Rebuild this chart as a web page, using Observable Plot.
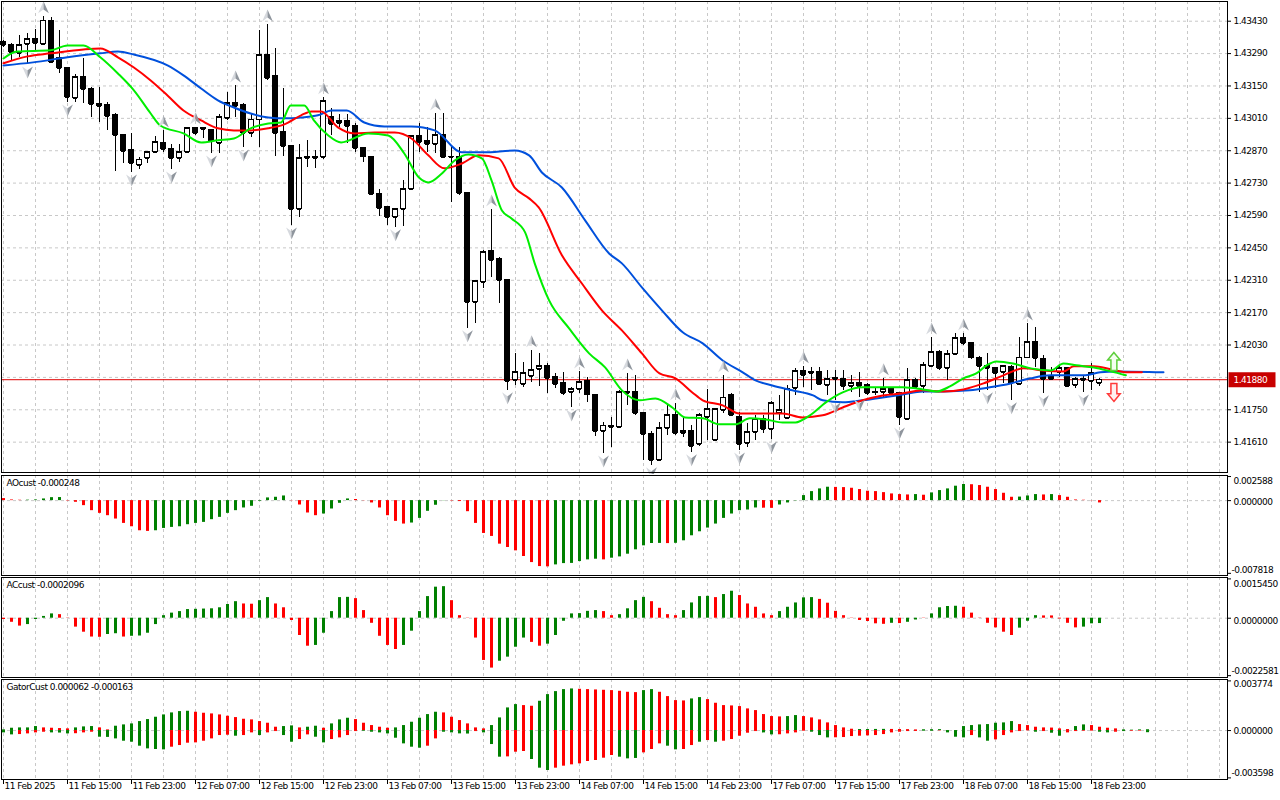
<!DOCTYPE html>
<html>
<head>
<meta charset="utf-8">
<title>H1 chart with Alligator, AO, AC, Gator</title>
<script src="https://cdn.jsdelivr.net/npm/d3@7"></script>
<script src="https://cdn.jsdelivr.net/npm/@observablehq/plot@0.6"></script>
<style>
html,body{margin:0;padding:0;background:#fff;}
#wrap{position:relative;width:1280px;height:800px;overflow:hidden;background:#fff;}
#wrap > svg{position:absolute;left:0;display:block;max-width:none;}
#wrap text{letter-spacing:-0.5px;}
</style>
</head>
<body>
<div id="wrap"></div>
<script>
// ---------------- DATA ----------------
const open = [
1.43338,1.43325,1.43291,1.43330,1.43351,1.43330,1.43433,1.43269,1.43226,1.43096,
1.43187,1.43139,1.43070,1.43066,1.43023,1.42936,1.42871,1.42807,1.42837,1.42863,
1.42902,1.42876,1.42837,1.42863,1.42967,1.42967,1.42958,1.42902,1.43010,1.43075,
1.43066,1.42945,1.43005,1.43282,1.43191,1.42949,1.42889,1.42616,1.42837,1.42841,
1.42841,1.43014,1.42988,1.42997,1.42979,1.42880,1.42845,1.42681,1.42625,1.42582,
1.42616,1.42703,1.42932,1.42910,1.42897,1.42936,1.42845,1.42845,1.42686,1.42214,
1.42301,1.42435,1.42400,1.42309,1.41877,1.41860,1.41894,1.41925,1.41938,1.41890,
1.41864,1.41825,1.41838,1.41873,1.41816,1.41657,1.41682,1.41674,1.41825,1.41825,
1.41734,1.41644,1.41531,1.41670,1.41726,1.41648,1.41657,1.41600,1.41717,1.41618,
1.41747,1.41812,1.41717,1.41605,1.41652,1.41708,1.41665,1.41734,1.41713,1.41842,
1.41916,1.41912,1.41912,1.41855,1.41886,1.41881,1.41851,1.41864,1.41855,1.41825,
1.41825,1.41838,1.41821,1.41708,1.41877,1.41851,1.41938,1.41998,1.41929,1.41989,
1.42059,1.42037,1.41976,1.41938,1.41929,1.41912,1.41933,1.41860,1.41976,1.42041,
1.41968,1.41881,1.41912,1.41929,1.41855,1.41881,1.41873,1.41864];
const high = [
1.43347,1.43334,1.43369,1.43377,1.43394,1.43451,1.43446,1.43390,1.43226,1.43200,
1.43269,1.43144,1.43144,1.43079,1.43031,1.42936,1.42945,1.42841,1.42867,1.42932,
1.42958,1.42897,1.42897,1.42971,1.42971,1.42971,1.42958,1.43027,1.43122,1.43152,
1.43075,1.43031,1.43390,1.43416,1.43312,1.43139,1.42893,1.42897,1.42915,1.42871,
1.43101,1.43053,1.43027,1.43027,1.42988,1.42880,1.42845,1.42703,1.42625,1.42616,
1.42742,1.42936,1.42988,1.42971,1.43031,1.43031,1.42893,1.42884,1.42686,1.42309,
1.42439,1.42616,1.42409,1.42309,1.41994,1.41955,1.42007,1.41994,1.41950,1.41907,
1.41912,1.41847,1.41916,1.41890,1.41816,1.41695,1.41717,1.41834,1.41907,1.41899,
1.41734,1.41657,1.41695,1.41769,1.41778,1.41713,1.41682,1.41734,1.41838,1.41756,
1.41899,1.41821,1.41739,1.41691,1.41726,1.41726,1.41786,1.41812,1.41855,1.41929,
1.41938,1.41933,1.41933,1.41920,1.41920,1.41920,1.41899,1.41912,1.41864,1.41847,
1.41886,1.41847,1.41825,1.41929,1.41886,1.41955,1.42063,1.42007,1.42007,1.42080,
1.42080,1.42037,1.41981,1.41994,1.41933,1.41942,1.41942,1.42063,1.42123,1.42106,
1.41985,1.41933,1.41942,1.41933,1.41890,1.41899,1.41950,1.41886];
const low = [
1.43317,1.43261,1.43274,1.43243,1.43304,1.43325,1.43248,1.43204,1.43079,1.43079,
1.43075,1.43014,1.42992,1.42958,1.42781,1.42815,1.42776,1.42789,1.42815,1.42858,
1.42863,1.42789,1.42820,1.42858,1.42936,1.42923,1.42858,1.42858,1.43001,1.43014,
1.42884,1.42928,1.42884,1.43174,1.42845,1.42845,1.42547,1.42582,1.42798,1.42794,
1.42832,1.42936,1.42971,1.42902,1.42863,1.42820,1.42677,1.42586,1.42547,1.42539,
1.42543,1.42698,1.42863,1.42863,1.42858,1.42837,1.42647,1.42677,1.42102,1.42123,
1.42275,1.42322,1.42210,1.41834,1.41855,1.41847,1.41868,1.41851,1.41821,1.41842,
1.41812,1.41760,1.41821,1.41782,1.41635,1.41561,1.41587,1.41670,1.41769,1.41726,
1.41531,1.41510,1.41527,1.41639,1.41639,1.41631,1.41566,1.41592,1.41618,1.41618,
1.41734,1.41726,1.41574,1.41587,1.41618,1.41648,1.41622,1.41704,1.41708,1.41812,
1.41847,1.41834,1.41855,1.41812,1.41791,1.41834,1.41825,1.41803,1.41812,1.41812,
1.41803,1.41812,1.41682,1.41704,1.41838,1.41821,1.41938,1.41920,1.41877,1.41985,
1.42028,1.41968,1.41825,1.41834,1.41842,1.41864,1.41791,1.41855,1.41976,1.41933,
1.41821,1.41877,1.41890,1.41847,1.41842,1.41825,1.41834,1.41851];
const close = [
1.43325,1.43295,1.43325,1.43351,1.43334,1.43433,1.43252,1.43226,1.43101,1.43187,
1.43135,1.43070,1.43062,1.43018,1.42936,1.42867,1.42815,1.42832,1.42863,1.42906,
1.42876,1.42837,1.42863,1.42967,1.42945,1.42962,1.42910,1.43014,1.43075,1.43062,
1.42945,1.43005,1.43282,1.43183,1.42945,1.42889,1.42616,1.42837,1.42841,1.42837,
1.43083,1.42984,1.42997,1.42975,1.42880,1.42845,1.42681,1.42621,1.42582,1.42616,
1.42703,1.42932,1.42906,1.42897,1.42936,1.42841,1.42841,1.42686,1.42214,1.42305,
1.42430,1.42396,1.42309,1.41873,1.41912,1.41907,1.41920,1.41938,1.41886,1.41860,
1.41821,1.41838,1.41868,1.41816,1.41657,1.41682,1.41674,1.41825,1.41821,1.41734,
1.41644,1.41531,1.41670,1.41726,1.41648,1.41657,1.41592,1.41726,1.41752,1.41752,
1.41803,1.41726,1.41600,1.41652,1.41708,1.41665,1.41778,1.41747,1.41838,1.41916,
1.41899,1.41907,1.41860,1.41881,1.41881,1.41851,1.41864,1.41851,1.41821,1.41823,
1.41838,1.41821,1.41717,1.41877,1.41847,1.41942,1.41998,1.41929,1.41989,1.42059,
1.42037,1.41976,1.41938,1.41929,1.41907,1.41938,1.41864,1.41976,1.42041,1.41972,
1.41881,1.41890,1.41929,1.41851,1.41881,1.41877,1.41907,1.41880];

// Alligator lines (bar position, price)
const jawBar = [0,3.7,8,12.1,14.3,16.3,20.5,22.5,24.7,26.8,28.8,30.9,33.1,35.1,37.2,39.3,41,42.9,45.1,47.6,51,53.9,57.3,60.1,63.9,65.7,67.3,69.8,72.7,75.7,77.3,79.8,82.3,84.9,87.4,89.9,92.4,94,96.1,98.6,101.2,102.4,104.9,107.4,109.9,112.4,114.9,117.5,120.8,123.3,125.9,128.4,130.9,135,137.1,139.1,145];
const jawPrice = [1.43239,1.43252,1.43274,1.43291,1.43299,1.43286,1.43239,1.43196,1.43139,1.43088,1.43057,1.43031,1.43014,1.43010,1.43014,1.43023,1.43044,1.43044,1.42992,1.42975,1.42975,1.42958,1.42863,1.42863,1.42871,1.42850,1.42776,1.42711,1.42569,1.42426,1.42383,1.42279,1.42180,1.42085,1.42037,1.41963,1.41912,1.41877,1.41855,1.41834,1.41812,1.41791,1.41782,1.41791,1.41803,1.41816,1.41829,1.41829,1.41834,1.41847,1.41864,1.41886,1.41899,1.41899,1.41912,1.41916,1.41912];
const teethBar = [0,3,5.9,10,12.1,14.3,16.3,18.4,20.5,22.5,24.7,26.8,28.8,30.9,33.1,35.1,37.2,38.5,39.7,41.8,43.9,46.4,48.9,51,53.1,55.1,57.3,59.4,61.9,63.9,65.7,66.9,69.8,72.3,74.8,77.3,79.8,82,84,86.1,87.4,89.9,92,94.5,97.4,99.9,102.4,104.9,107.4,109.9,112.4,114.9,117.5,120,122.5,125,127.5,130,132.5,133.8,136.3,138.4,140.4,142.3];
const teethPrice = [1.43248,1.43278,1.43291,1.43308,1.43312,1.43274,1.43230,1.43174,1.43109,1.43044,1.43001,1.42967,1.42958,1.42958,1.42967,1.42984,1.43023,1.43040,1.43040,1.42971,1.42945,1.42949,1.42949,1.42923,1.42850,1.42794,1.42815,1.42850,1.42837,1.42711,1.42664,1.42625,1.42418,1.42296,1.42180,1.42093,1.41994,1.41907,1.41886,1.41825,1.41791,1.41769,1.41734,1.41734,1.41734,1.41717,1.41726,1.41760,1.41791,1.41812,1.41821,1.41834,1.41829,1.41838,1.41864,1.41899,1.41929,1.41920,1.41916,1.41938,1.41938,1.41925,1.41912,1.41912];
const lipsBar = [0,1.7,5.9,8,10,12.1,14.3,16.3,18.4,19.6,22.5,24.7,26.8,28.8,30.9,33.1,34.7,35.9,37.6,38.8,40.6,42.2,45.6,48.1,50.1,51.9,53.1,54.8,56.4,58.1,59.8,61,62.3,63.5,65.2,66.4,68.2,70.7,73.2,75.2,77.3,79.5,81.5,83.6,85.2,87.4,89.5,91.5,93.3,95.3,97.4,99,100.8,102.8,104.9,107.4,109.9,112.4,114.9,116.6,118.3,120,121.6,122.9,124.1,126.2,128.4,130.9,132.5,134.1,136.3,138.4,140.3];
const lipsPrice = [1.43269,1.43299,1.43304,1.43325,1.43325,1.43274,1.43204,1.43131,1.43031,1.42979,1.42945,1.42906,1.42915,1.42923,1.42967,1.42988,1.42992,1.43066,1.43066,1.43001,1.42936,1.42906,1.42945,1.42936,1.42858,1.42755,1.42733,1.42772,1.42828,1.42854,1.42837,1.42742,1.42612,1.42577,1.42517,1.42383,1.42223,1.42102,1.41994,1.41933,1.41834,1.41791,1.41799,1.41760,1.41717,1.41713,1.41687,1.41687,1.41713,1.41708,1.41695,1.41695,1.41726,1.41782,1.41825,1.41847,1.41847,1.41847,1.41838,1.41829,1.41851,1.41886,1.41907,1.41942,1.41959,1.41950,1.41929,1.41920,1.41950,1.41942,1.41933,1.41916,1.41899];

// Fractal bars
const fractalUp = [5,20,24,29,33,40,54,61,66,72,78,84,90,100,110,116,120,128];
const fractalDown = [3,8,16,21,26,30,36,49,58,63,71,75,81,86,92,96,104,107,112,123,126,130,135];

// Alligator signal arrows (bar, price)
const signalUp = [{bar: 138.8, price: 1.41959}];
const signalDown = [{bar: 138.8, price: 1.41825}];

const lastPrice = 1.41880;
const priceTicks = [1.43430,1.43290,1.43150,1.43010,1.42870,1.42730,1.42590,1.42450,1.42310,1.42170,1.42030,1.41750,1.41610];
const priceGrid = [1.43430,1.43290,1.43150,1.43010,1.42870,1.42730,1.42590,1.42450,1.42310,1.42170,1.42030,1.41890,1.41750,1.41610];

// Awesome Oscillator
const ao = [
0.00022,0.00007,0.00004,0.00005,0.00007,0.00018,0.00032,0.00033,-0.00004,-0.00018,
-0.00054,-0.00108,-0.00137,-0.00162,-0.00198,-0.00245,-0.00281,-0.00324,-0.00331,-0.00324,
-0.00299,-0.00288,-0.00281,-0.00259,-0.00245,-0.00234,-0.00205,-0.00180,-0.00137,-0.00108,
-0.00079,-0.00061,-0.00007,0.00029,0.00036,0.00050,-0.00002,-0.00047,-0.00133,-0.00162,
-0.00144,-0.00090,-0.00029,0.00018,0.00012,-0.00002,-0.00025,-0.00079,-0.00162,-0.00223,
-0.00252,-0.00241,-0.00191,-0.00115,-0.00050,-0.00002,-0.00004,-0.00010,-0.00119,-0.00245,
-0.00353,-0.00385,-0.00468,-0.00504,-0.00540,-0.00601,-0.00666,-0.00709,-0.00712,-0.00691,
-0.00677,-0.00675,-0.00655,-0.00637,-0.00630,-0.00637,-0.00619,-0.00605,-0.00576,-0.00529,
-0.00486,-0.00461,-0.00460,-0.00462,-0.00459,-0.00432,-0.00378,-0.00335,-0.00295,-0.00252,
-0.00191,-0.00144,-0.00108,-0.00101,-0.00079,-0.00081,-0.00083,-0.00047,-0.00025,-0.00003,
0.00054,0.00097,0.00126,0.00144,0.00142,0.00140,0.00133,0.00119,0.00101,0.00097,
0.00086,0.00072,0.00065,0.00061,0.00065,0.00058,0.00083,0.00108,0.00126,0.00155,
0.00173,0.00171,0.00162,0.00144,0.00119,0.00079,0.00036,0.00038,0.00050,0.00065,
0.00061,0.00065,0.00054,0.00036,0.00007,0.00004,-0.00002,-0.000248];
const aoColorRuns = [3,"r",5,"g",11,"r",17,"g",4,"r",4,"g",7,"r",5,"g",13,"r",6,"g",1,"r",7,"g",1,"r",11,"g",2,"r",7,"g",10,"r",1,"g",1,"r",5,"g",6,"r",3,"g",1,"r",1,"g",6,"r"];

// Accelerator Oscillator
const ac = [
-0.00005,-0.00016,-0.00031,-0.00025,-0.00005,0.00007,0.00017,0.00014,-0.00001,-0.00035,
-0.00055,-0.00074,-0.00075,-0.00064,-0.00061,-0.00074,-0.00071,-0.00070,-0.00059,-0.00025,
0.00010,0.00020,0.00026,0.00034,0.00035,0.00036,0.00037,0.00041,0.00054,0.00065,
0.00056,0.00055,0.00069,0.00081,0.00056,0.00041,-0.00009,-0.00068,-0.00110,-0.00107,
-0.00059,0.00026,0.00081,0.00082,0.00077,0.00030,-0.00020,-0.00071,-0.00107,-0.00123,
-0.00107,-0.00051,0.00026,0.00085,0.00122,0.00124,0.00069,0.00010,-0.00001,-0.00078,
-0.00166,-0.00196,-0.00169,-0.00153,-0.00114,-0.00078,-0.00095,-0.00110,-0.00102,-0.00068,
-0.00012,0.00017,0.00018,0.00027,0.00030,0.00026,0.00010,0.00014,0.00037,0.00069,
0.00082,0.00065,0.00039,0.00014,0.00010,0.00030,0.00060,0.00085,0.00086,0.00081,
0.00093,0.00106,0.00089,0.00056,0.00043,0.00017,0.00010,0.00026,0.00043,0.00060,
0.00080,0.00081,0.00074,0.00059,0.00027,0.00010,-0.00001,-0.00009,-0.00013,-0.00022,
-0.00024,-0.00020,-0.00021,-0.00016,-0.00007,-0.00001,0.00017,0.00041,0.00046,0.00047,
0.00043,0.00020,-0.00001,-0.00020,-0.00038,-0.00055,-0.00068,-0.00039,-0.00012,0.00010,
0.00009,0.00009,-0.00003,-0.00020,-0.00038,-0.00035,-0.00022,-0.0002096];
const acColorRuns = [3,"r",4,"g",6,"r",2,"g",1,"r",14,"g",2,"r",2,"g",5,"r",5,"g",6,"r",6,"g",6,"r",4,"g",2,"r",7,"g",2,"r",4,"g",4,"r",4,"g",1,"r",2,"g",5,"r",5,"g",9,"r",1,"g",1,"r",2,"g",1,"r",4,"g",7,"r",3,"g",5,"r",3,"g"];

// Gator oscillator, values in millionths
const gatorUp = [
51,177,202,202,304,202,177,152,127,202,
278,304,202,51,329,430,506,683,835,1012,
1189,1341,1442,1467,1392,1316,1265,1189,1088,987,
860,810,683,557,253,304,354,202,253,329,
177,506,810,936,835,557,380,253,177,202,
380,633,936,1214,1392,1341,1012,759,506,202,
127,380,961,1720,1973,1898,1847,2226,2732,2960,
3112,3163,3137,3112,3087,3061,3036,2985,2910,2884,
3036,3112,2910,2581,2277,2252,2404,2505,2353,2075,
1898,1872,1822,1645,1518,1214,1063,1037,1063,1139,
1063,961,810,582,380,202,101,76,80,85,
90,85,80,70,50,60,65,70,0,0,
304,380,430,455,557,582,683,455,380,253,
202,190,127,76,304,430,380,253,177,127,
51,30,51,62];
const gatorUpRuns = [5,"g",4,"r",3,"g",2,"r",10,"g",11,"r",2,"g",1,"r",2,"g",1,"r",3,"g",5,"r",6,"g",6,"r",4,"g",2,"r",5,"g",8,"r",2,"g",4,"r",2,"g",10,"r",2,"g",7,"r",4,"g",4,"r",3,"g",2,"g",7,"g",7,"r",2,"g",4,"r",4,"g"];
const gatorLow = [
-177,-329,-304,-253,-177,-127,-177,-190,-253,-240,
-177,-127,-506,-520,-633,-810,-886,-1189,-1392,-1442,
-1467,-1265,-1139,-961,-936,-810,-633,-380,-354,-430,
-380,-177,-380,-177,-76,-380,-886,-683,-329,-506,
-936,-683,-557,-380,-76,-51,-127,-177,-253,-582,
-1012,-1265,-1341,-1189,-633,-127,-177,-253,-265,-76,
-177,-1063,-2024,-2000,-1645,-1594,-2201,-2859,-3036,-2859,
-2707,-2606,-2530,-2353,-2277,-2100,-1898,-2024,-2151,-2120,
-1695,-1442,-1012,-1189,-1467,-1442,-1139,-886,-759,-886,
-810,-683,-430,-202,-76,-177,-329,-320,-253,-177,
-51,-127,-380,-557,-550,-531,-455,-430,-405,-380,
-304,-177,-127,-76,-70,-51,-55,-25,-177,-506,
-557,-380,-557,-810,-708,-380,-177,-76,-25,-127,
-76,-202,-430,-177,-76,-51,-45,-127,-177,-127,
-76,-51,-45,-163];
const gatorLowRuns = [2,"g",4,"r",3,"g",3,"r",9,"g",8,"r",1,"g",2,"r",1,"g",2,"r",2,"g",2,"r",2,"g",4,"r",8,"g",2,"r",4,"g",1,"r",3,"g",3,"r",3,"g",8,"r",3,"g",3,"r",2,"g",2,"r",1,"g",1,"r",1,"g",5,"r",2,"g",4,"r",3,"g",11,"r",2,"g",1,"r",3,"g",1,"r",2,"g",5,"r",1,"g",1,"r",2,"g",4,"r",2,"g",1,"r",1,"g",2,"r",1,"g"];

// Texts
const aoTitle = "AOcust -0.000248";
const acTitle = "ACcust -0.0002096";
const gatorTitle = "GatorCust 0.000062 -0.000163";
const aoScale = [0.002588, 0, -0.007818], aoScaleText = ["0.002588","0.000000","-0.007818"];
const acScale = [0.0015450, 0, -0.0022581], acScaleText = ["0.0015450","0.0000000","-0.0022581"];
const gatorScale = [0.003774, 0, -0.003598], gatorScaleText = ["0.003774","0.000000","-0.003598"];
const timeTickBars = [0,8,16,24,32,40,48,56,64,72,80,88,96,104,112,120,128,136];
const timeLabels = ["11 Feb 2025","11 Feb 15:00","11 Feb 23:00","12 Feb 07:00","12 Feb 15:00","12 Feb 23:00","13 Feb 07:00","13 Feb 15:00","13 Feb 23:00","14 Feb 07:00","14 Feb 15:00","14 Feb 23:00","17 Feb 07:00","17 Feb 15:00","17 Feb 23:00","18 Feb 07:00","18 Feb 15:00","18 Feb 23:00"];

// ---------------- DRAWING ----------------
const RED = "#ff0000", GREEN = "#008000", GRID = "#c8c8c8";
const X_DOMAIN = [-0.25, 153];
const XMAX = 153;
const gridBars = d3.range(0, 153, 4);
const wrap = document.getElementById("wrap");
const style = {fontFamily: "'DejaVu Sans', sans-serif", fontSize: "9px", background: "transparent", color: "#000"};

function expand(runs) {
  const out = [];
  for (let k = 0; k < runs.length; k += 2) for (let j = 0; j < runs[k]; j++) out.push(runs[k + 1] === "g" ? GREEN : RED);
  return out;
}
const radius = (size) => Math.sqrt(size / Math.PI);
const sym = (pts) => ({draw(ctx, size) { const r = radius(size); ctx.moveTo(pts[0][0]*r, pts[0][1]*r); for (let k = 1; k < pts.length; k++) ctx.lineTo(pts[k][0]*r, pts[k][1]*r); ctx.closePath(); }});
const upLeft = sym([[0,-1],[0,0.35],[-0.9,1]]);
const upRight = sym([[0,-1],[0.9,1],[0,0.35]]);
const downLeft = sym([[0,1],[0,-0.35],[-0.9,-1]]);
const downRight = sym([[0,1],[0.9,-1],[0,-0.35]]);
const blockUp = sym([[0,-1],[0.7,-0.15],[0.33,-0.15],[0.33,1],[-0.33,1],[-0.33,-0.15],[-0.7,-0.15]]);
const blockDown = sym([[0,1],[0.7,0.15],[0.33,0.15],[0.33,-1],[-0.33,-1],[-0.33,0.15],[-0.7,0.15]]);
const labelBox = {draw(ctx) { ctx.rect(-23.5, -7.5, 47, 15); }};

function place(svg, top) { svg.style.top = top + "px"; wrap.appendChild(svg); }

// Main price panel
const candles = open.map((o, i) => ({i, open: o, high: high[i], low: low[i], close: close[i]}));
const pts = (bars, prices) => bars.map((b, k) => ({b, p: prices[k]}));
const half = 0.3;

const main = Plot.plot({
  width: 1280, height: 474, marginLeft: 1, marginRight: 53, marginTop: 1, marginBottom: 2,
  x: {domain: X_DOMAIN, axis: null}, y: {domain: [1.414788, 1.435152], axis: null},
  style,
  marks: [
    Plot.ruleX(gridBars, {x: d => d, stroke: GRID, strokeDasharray: "3,3"}),
    Plot.ruleY(priceGrid, {y: d => d, stroke: GRID, strokeDasharray: "3,3"}),
    Plot.ruleY([lastPrice], {y: d => d, stroke: "#e00000", strokeWidth: 1}),
    Plot.ruleX(candles, {x: "i", y1: "low", y2: "high", stroke: "#000", shapeRendering: "crispEdges"}),
    Plot.rect(candles, {x1: d => d.i - half, x2: d => d.i + half, y1: "open", y2: "close",
      fill: d => d.close >= d.open ? "#fff" : "#000", stroke: "#000", shapeRendering: "crispEdges"}),
    Plot.ruleY(candles, {y: "open", x1: d => d.i - half, x2: d => d.i + half, stroke: "#000", shapeRendering: "crispEdges"}),
    Plot.ruleY(candles, {y: "close", x1: d => d.i - half, x2: d => d.i + half, stroke: "#000", shapeRendering: "crispEdges"}),
    Plot.line(pts(jawBar, jawPrice), {x: "b", y: "p", stroke: "#0050dc", strokeWidth: 2, curve: "monotone-x"}),
    Plot.line(pts(teethBar, teethPrice), {x: "b", y: "p", stroke: "#ff0000", strokeWidth: 2, curve: "monotone-x"}),
    Plot.line(pts(lipsBar, lipsPrice), {x: "b", y: "p", stroke: "#00ee00", strokeWidth: 2, curve: "monotone-x"}),
    Plot.dot(fractalUp, {x: d => d, y: d => high[d], symbol: upLeft, r: 6, fill: "#d6d9de", stroke: "none", dy: -9}),
    Plot.dot(fractalUp, {x: d => d, y: d => high[d], symbol: upRight, r: 6, fill: "#8f959d", stroke: "none", dy: -9}),
    Plot.dot(fractalDown, {x: d => d, y: d => low[d], symbol: downLeft, r: 6, fill: "#d6d9de", stroke: "none", dy: 8}),
    Plot.dot(fractalDown, {x: d => d, y: d => low[d], symbol: downRight, r: 6, fill: "#8f959d", stroke: "none", dy: 8}),
    Plot.dot(signalUp, {x: "bar", y: "price", symbol: blockUp, r: 9, fill: "#f4fff0", stroke: "#5ccf3a", strokeWidth: 1.5}),
    Plot.dot(signalDown, {x: "bar", y: "price", symbol: blockDown, r: 9, fill: "#fff0f0", stroke: "#ff3b3b", strokeWidth: 1.5}),
    Plot.frame({stroke: "#000"}),
    Plot.ruleY(priceTicks, {y: d => d, x1: XMAX, x2: XMAX + 0.5, stroke: "#000"}),
    Plot.text(priceTicks, {x: XMAX, y: d => d, text: d => d.toFixed(5), dx: 6, textAnchor: "start", fill: "#000"}),
    Plot.dot([lastPrice], {x: XMAX, y: d => d, symbol: labelBox, r: 1, fill: "#c80000", stroke: "none", dx: 24.5}),
    Plot.text([lastPrice], {x: XMAX, y: d => d, text: d => d.toFixed(5), dx: 6, textAnchor: "start", fill: "#fff"})
  ]
});
place(main, 0);

// Sub panels
function subPanel({top, height, mb, domain, title, bars, scale, scaleText, dys, extra = []}) {
  const scaleMarks = scale.map((v, k) => Plot.text([v], {x: XMAX, y: d => d, text: () => scaleText[k],
    dx: scaleText[k].startsWith("-") ? 4 : 6, dy: dys[k], textAnchor: "start", fill: "#000"}));
  const svg = Plot.plot({
    width: 1280, height, marginLeft: 1, marginRight: 53, marginTop: 1, marginBottom: mb,
    x: {domain: X_DOMAIN, axis: null}, y: {domain, axis: null},
    style,
    marks: [
      Plot.ruleX(gridBars, {x: d => d, stroke: GRID, strokeDasharray: "3,3"}),
      Plot.ruleY([0], {y: d => d, stroke: GRID, strokeDasharray: "3,3"}),
      ...bars,
      Plot.frame({stroke: "#000"}),
      Plot.ruleY(scale, {y: d => d, x1: XMAX, x2: XMAX + 0.5, stroke: "#000"}),
      ...scaleMarks,
      Plot.text([title], {frameAnchor: "top-left", dx: 5, dy: 4, lineAnchor: "top", textAnchor: "start", text: d => d, fill: "#000"}),
      ...extra
    ]
  });
  place(svg, top);
}

const aoCol = expand(aoColorRuns);
const aoData = ao.map((v, i) => ({i, v, c: aoCol[i]}));
subPanel({top: 474, height: 102, mb: 1, domain: [-0.00805, 0.00270], title: aoTitle,
  bars: [Plot.ruleX(aoData, {x: "i", y1: () => 0, y2: "v", stroke: "c", strokeWidth: 3})],
  scale: aoScale, scaleText: aoScaleText, dys: [5, 1, -3]});

const acCol = expand(acColorRuns);
const acData = ac.map((v, i) => ({i, v, c: acCol[i]}));
subPanel({top: 576, height: 102, mb: 1, domain: [-0.00233, 0.00160], title: acTitle,
  bars: [Plot.ruleX(acData, {x: "i", y1: () => 0, y2: "v", stroke: "c", strokeWidth: 3})],
  scale: acScale, scaleText: acScaleText, dys: [5.5, 3, -5]});

const guCol = expand(gatorUpRuns), glCol = expand(gatorLowRuns);
const guData = gatorUp.map((v, i) => ({i, v: v / 1e6, c: guCol[i]})).filter(d => d.v !== 0);
const glData = gatorLow.map((v, i) => ({i, v: v / 1e6, c: glCol[i]})).filter(d => d.v !== 0);
subPanel({top: 678, height: 122, mb: 21, domain: [-0.00372, 0.00388], title: gatorTitle,
  bars: [
    Plot.ruleX(guData, {x: "i", y1: () => 0, y2: "v", stroke: "c", strokeWidth: 3}),
    Plot.ruleX(glData, {x: "i", y1: () => 0, y2: "v", stroke: "c", strokeWidth: 3})
  ],
  scale: gatorScale, scaleText: gatorScaleText, dys: [3.5, 1, -4.5],
  extra: [
    Plot.ruleX(timeTickBars, {x: d => d, insetTop: 100, insetBottom: -5, stroke: "#000"}),
    Plot.text(timeTickBars, {x: d => d, text: (d, i) => timeLabels[i], frameAnchor: "bottom", dy: 9, dx: 1, textAnchor: "start", fill: "#000"})
  ]});
</script>
</body>
</html>
